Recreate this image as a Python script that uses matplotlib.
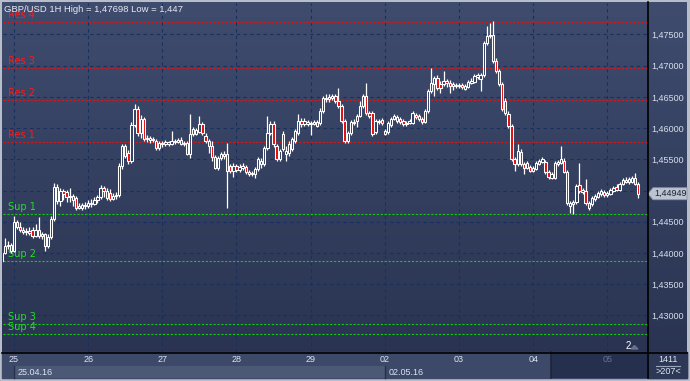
import matplotlib.pyplot as plt
import matplotlib.transforms as mtransforms
from matplotlib.patches import Rectangle, Polygon
import numpy as np
import pandas as pd

# GBP/USD 1H candles (1 bar = 1 hour)
opens = [
    1.4388, 1.4400, 1.4412, 1.4413, 1.4404, 1.4449, 1.4442, 1.4437, 1.4434, 1.4436,
    1.4437, 1.4428, 1.4437, 1.4428, 1.4431, 1.4412, 1.4426, 1.4455, 1.4506, 1.4484,
    1.4500, 1.4498, 1.4490, 1.4492, 1.4488, 1.4472, 1.4472, 1.4477, 1.4476, 1.4480,
    1.4479, 1.4485, 1.4490, 1.4504, 1.4500, 1.4496, 1.4487, 1.4492, 1.4493, 1.4540,
    1.4572, 1.4560, 1.4548, 1.4605, 1.4631, 1.4592, 1.4614, 1.4583, 1.4584, 1.4581,
    1.4580, 1.4568, 1.4576, 1.4575, 1.4578, 1.4575, 1.4580, 1.4578, 1.4581, 1.4575,
    1.4576, 1.4559, 1.4599, 1.4591, 1.4594, 1.4607, 1.4588, 1.4580, 1.4572, 1.4554,
    1.4536, 1.4552, 1.4559, 1.4559, 1.4540, 1.4532, 1.4540, 1.4533, 1.4536, 1.4538,
    1.4530, 1.4527, 1.4527, 1.4535, 1.4543, 1.4543, 1.4568, 1.4592, 1.4607, 1.4572,
    1.4551, 1.4591, 1.4559, 1.4560, 1.4567, 1.4580, 1.4592, 1.4612, 1.4607, 1.4610,
    1.4607, 1.4607, 1.4610, 1.4608, 1.4628, 1.4648, 1.4647, 1.4648, 1.4652, 1.4644,
    1.4636, 1.4612, 1.4580, 1.4592, 1.4610, 1.4612, 1.4619, 1.4636, 1.4652, 1.4624,
    1.4624, 1.4594, 1.4612, 1.4613, 1.4591, 1.4594, 1.4605, 1.4614, 1.4617, 1.4614,
    1.4612, 1.4607, 1.4608, 1.4608, 1.4621, 1.4619, 1.4614, 1.4610, 1.4628, 1.4660,
    1.4671, 1.4681, 1.4671, 1.4671, 1.4676, 1.4672, 1.4668, 1.4669, 1.4668, 1.4669,
    1.4663, 1.4666, 1.4672, 1.4674, 1.4682, 1.4679, 1.4685, 1.4736, 1.4747, 1.4749,
    1.4707, 1.4691, 1.4671, 1.4644, 1.4623, 1.4604, 1.4551, 1.4543, 1.4562, 1.4543,
    1.4536, 1.4538, 1.4532, 1.4535, 1.4543, 1.4546, 1.4546, 1.4530, 1.4520, 1.4520,
    1.4543, 1.4544, 1.4548, 1.4530, 1.4476, 1.4479, 1.4482, 1.4509, 1.4498, 1.4500,
    1.4480, 1.4479, 1.4487, 1.4490, 1.4495, 1.4498, 1.4493, 1.4495, 1.4500, 1.4506,
    1.4501, 1.4511, 1.4514, 1.4519, 1.4514, 1.4520, 1.4511,
]
highs = [
    1.4404, 1.4424, 1.4420, 1.4416, 1.4460, 1.4453, 1.4449, 1.4442, 1.4440, 1.4442,
    1.4442, 1.4447, 1.4458, 1.4434, 1.4432, 1.4431, 1.4460, 1.4512, 1.4511, 1.4504,
    1.4503, 1.4501, 1.4504, 1.4495, 1.4492, 1.4480, 1.4480, 1.4482, 1.4485, 1.4487,
    1.4490, 1.4493, 1.4509, 1.4508, 1.4504, 1.4503, 1.4496, 1.4498, 1.4544, 1.4575,
    1.4575, 1.4565, 1.4610, 1.4639, 1.4636, 1.4621, 1.4617, 1.4589, 1.4588, 1.4586,
    1.4583, 1.4580, 1.4580, 1.4581, 1.4580, 1.4596, 1.4583, 1.4584, 1.4586, 1.4580,
    1.4580, 1.4623, 1.4602, 1.4600, 1.4619, 1.4610, 1.4592, 1.4583, 1.4580, 1.4557,
    1.4556, 1.4562, 1.4564, 1.4576, 1.4543, 1.4544, 1.4543, 1.4543, 1.4544, 1.4541,
    1.4533, 1.4532, 1.4538, 1.4554, 1.4552, 1.4572, 1.4619, 1.4612, 1.4612, 1.4575,
    1.4567, 1.4596, 1.4572, 1.4580, 1.4586, 1.4599, 1.4623, 1.4616, 1.4616, 1.4613,
    1.4612, 1.4613, 1.4613, 1.4632, 1.4652, 1.4655, 1.4655, 1.4655, 1.4655, 1.4664,
    1.4639, 1.4614, 1.4596, 1.4613, 1.4614, 1.4623, 1.4644, 1.4655, 1.4672, 1.4628,
    1.4628, 1.4614, 1.4614, 1.4616, 1.4599, 1.4612, 1.4617, 1.4623, 1.4621, 1.4617,
    1.4614, 1.4612, 1.4614, 1.4628, 1.4624, 1.4623, 1.4617, 1.4631, 1.4663, 1.4696,
    1.4684, 1.4685, 1.4676, 1.4691, 1.4679, 1.4677, 1.4674, 1.4672, 1.4672, 1.4672,
    1.4671, 1.4677, 1.4681, 1.4687, 1.4688, 1.4688, 1.4739, 1.4763, 1.4768, 1.4771,
    1.4712, 1.4695, 1.4674, 1.4648, 1.4628, 1.4607, 1.4554, 1.4575, 1.4567, 1.4546,
    1.4548, 1.4541, 1.4540, 1.4548, 1.4551, 1.4554, 1.4549, 1.4533, 1.4530, 1.4548,
    1.4549, 1.4572, 1.4552, 1.4533, 1.4484, 1.4485, 1.4511, 1.4544, 1.4504, 1.4519,
    1.4484, 1.4492, 1.4495, 1.4500, 1.4503, 1.4501, 1.4500, 1.4504, 1.4508, 1.4511,
    1.4514, 1.4520, 1.4522, 1.4522, 1.4524, 1.4528, 1.4514,
]
lows = [
    1.4384, 1.4399, 1.4407, 1.4400, 1.4402, 1.4439, 1.4434, 1.4431, 1.4429, 1.4429,
    1.4424, 1.4426, 1.4424, 1.4423, 1.4404, 1.4408, 1.4423, 1.4452, 1.4479, 1.4476,
    1.4485, 1.4482, 1.4482, 1.4476, 1.4469, 1.4471, 1.4469, 1.4471, 1.4472, 1.4474,
    1.4477, 1.4480, 1.4487, 1.4490, 1.4485, 1.4484, 1.4485, 1.4487, 1.4490, 1.4535,
    1.4552, 1.4543, 1.4544, 1.4602, 1.4588, 1.4584, 1.4580, 1.4578, 1.4576, 1.4578,
    1.4565, 1.4565, 1.4570, 1.4572, 1.4572, 1.4573, 1.4575, 1.4576, 1.4573, 1.4572,
    1.4557, 1.4552, 1.4588, 1.4589, 1.4592, 1.4589, 1.4576, 1.4560, 1.4548, 1.4535,
    1.4533, 1.4549, 1.4551, 1.4472, 1.4528, 1.4522, 1.4530, 1.4530, 1.4533, 1.4527,
    1.4524, 1.4524, 1.4520, 1.4532, 1.4536, 1.4540, 1.4565, 1.4589, 1.4570, 1.4548,
    1.4548, 1.4564, 1.4548, 1.4556, 1.4564, 1.4576, 1.4589, 1.4602, 1.4604, 1.4604,
    1.4589, 1.4605, 1.4602, 1.4605, 1.4624, 1.4642, 1.4642, 1.4645, 1.4640, 1.4632,
    1.4608, 1.4576, 1.4576, 1.4589, 1.4605, 1.4602, 1.4617, 1.4632, 1.4621, 1.4616,
    1.4588, 1.4591, 1.4607, 1.4605, 1.4589, 1.4591, 1.4602, 1.4613, 1.4608, 1.4607,
    1.4604, 1.4604, 1.4607, 1.4607, 1.4614, 1.4612, 1.4607, 1.4608, 1.4624, 1.4656,
    1.4652, 1.4661, 1.4656, 1.4668, 1.4666, 1.4656, 1.4661, 1.4664, 1.4664, 1.4663,
    1.4661, 1.4664, 1.4671, 1.4672, 1.4679, 1.4660, 1.4682, 1.4733, 1.4744, 1.4704,
    1.4688, 1.4668, 1.4628, 1.4621, 1.4600, 1.4548, 1.4532, 1.4540, 1.4540, 1.4527,
    1.4535, 1.4530, 1.4530, 1.4533, 1.4541, 1.4544, 1.4527, 1.4519, 1.4519, 1.4519,
    1.4540, 1.4543, 1.4528, 1.4477, 1.4464, 1.4463, 1.4479, 1.4496, 1.4495, 1.4477,
    1.4469, 1.4476, 1.4484, 1.4488, 1.4492, 1.4490, 1.4490, 1.4493, 1.4498, 1.4500,
    1.4500, 1.4509, 1.4512, 1.4511, 1.4512, 1.4509, 1.4488,
]
closes = [
    1.4400, 1.4412, 1.4413, 1.4404, 1.4449, 1.4442, 1.4437, 1.4434, 1.4436, 1.4432,
    1.4428, 1.4437, 1.4428, 1.4431, 1.4412, 1.4426, 1.4455, 1.4506, 1.4484, 1.4500,
    1.4495, 1.4490, 1.4492, 1.4485, 1.4472, 1.4476, 1.4477, 1.4476, 1.4480, 1.4479,
    1.4485, 1.4490, 1.4504, 1.4500, 1.4488, 1.4487, 1.4492, 1.4493, 1.4540, 1.4572,
    1.4556, 1.4548, 1.4605, 1.4631, 1.4592, 1.4614, 1.4583, 1.4584, 1.4581, 1.4583,
    1.4568, 1.4576, 1.4575, 1.4578, 1.4575, 1.4580, 1.4578, 1.4581, 1.4575, 1.4576,
    1.4559, 1.4591, 1.4591, 1.4597, 1.4607, 1.4592, 1.4580, 1.4572, 1.4554, 1.4536,
    1.4552, 1.4559, 1.4556, 1.4532, 1.4532, 1.4540, 1.4533, 1.4538, 1.4540, 1.4530,
    1.4527, 1.4528, 1.4535, 1.4551, 1.4548, 1.4568, 1.4592, 1.4607, 1.4575, 1.4551,
    1.4564, 1.4567, 1.4564, 1.4575, 1.4583, 1.4596, 1.4612, 1.4607, 1.4612, 1.4607,
    1.4608, 1.4610, 1.4604, 1.4628, 1.4648, 1.4647, 1.4650, 1.4652, 1.4644, 1.4636,
    1.4612, 1.4580, 1.4592, 1.4610, 1.4608, 1.4619, 1.4636, 1.4652, 1.4624, 1.4619,
    1.4591, 1.4612, 1.4610, 1.4608, 1.4596, 1.4608, 1.4614, 1.4619, 1.4612, 1.4610,
    1.4607, 1.4608, 1.4612, 1.4624, 1.4617, 1.4614, 1.4610, 1.4628, 1.4660, 1.4672,
    1.4681, 1.4664, 1.4664, 1.4676, 1.4672, 1.4668, 1.4671, 1.4668, 1.4669, 1.4666,
    1.4668, 1.4674, 1.4676, 1.4684, 1.4685, 1.4685, 1.4736, 1.4747, 1.4749, 1.4707,
    1.4691, 1.4671, 1.4631, 1.4624, 1.4604, 1.4551, 1.4543, 1.4564, 1.4543, 1.4536,
    1.4544, 1.4532, 1.4536, 1.4544, 1.4548, 1.4551, 1.4530, 1.4522, 1.4527, 1.4544,
    1.4546, 1.4551, 1.4530, 1.4480, 1.4480, 1.4482, 1.4508, 1.4500, 1.4501, 1.4480,
    1.4472, 1.4488, 1.4492, 1.4496, 1.4500, 1.4493, 1.4496, 1.4501, 1.4504, 1.4501,
    1.4511, 1.4517, 1.4517, 1.4514, 1.4520, 1.4511, 1.4495,
]

res_names = ['Res 1', 'Res 2', 'Res 3', 'Res 4']
res_levels = [1.4578, 1.4645, 1.4696, 1.4770]
sup_names = ['Sup 1', 'Sup 2', 'Sup 3', 'Sup 4']
sup_levels = [1.4462, 1.4387, 1.4287, 1.4271]

price_ticks = [1.430, 1.435, 1.440, 1.445, 1.450, 1.455, 1.460, 1.465, 1.470, 1.475]
last_price = 1.44949
title = 'GBP/USD 1H High = 1,47698 Low = 1,447'
bars_total = '1411'
bars_shown = '>207<'

# hourly bars, no weekend except the few sunday evening bars at the start
times = pd.date_range('2016-04-24 20:00', '2016-05-05 10:00', freq='h')
times = times[(times.dayofweek < 5) | (times < '2016-04-25')]
idx = np.arange(len(times))
day_idx = idx[times.hour == 0]
day_lab = [t.strftime('%d') for t in times[day_idx]]
week_idx = idx[(times.hour == 0) & (times.dayofweek == 0)]
week_lab = [t.strftime('%d.%m.%y') for t in times[week_idx]]
dark_from = 177.8   # where the darker strip of the time scale starts

W, H = 690, 381
fig = plt.figure(figsize=(W / 100, H / 100), dpi=100, facecolor='#b7bdc9')

# background layer in pixel units
bg = fig.add_axes([0, 0, 1, 1])
bg.set_xlim(0, W)
bg.set_ylim(H, 0)
bg.axis('off')
grad = np.linspace(0, 1, 256)[:, None]
top = np.array([0x3f, 0x4c, 0x6e]) / 255
bot = np.array([0x2a, 0x34, 0x52]) / 255
img = top + (bot - top) * grad[..., None]
bg.imshow(img, extent=(2, 687, 352, 2), aspect='auto', zorder=0)
bg.add_patch(Rectangle((2, 352), 685, 26, color='#3c4968', zorder=1))
bg.add_patch(Rectangle((648, 352), 39, 26, color='#2d3857', zorder=2))

# main chart
ax = fig.add_axes([3 / W, 1 - 352 / H, 644 / W, 349 / H])
ax.patch.set_alpha(0)
ax.set_xlim(0.44, 208.85)
ax.set_ylim(1.42415, 1.48003)
for s in ax.spines.values():
    s.set_visible(False)

ax.set_xticks(day_idx)
ax.set_xticklabels(day_lab)
ax.set_yticks(price_ticks)
# the label under the current price tag is hidden, as on the original
ax.set_yticklabels(['' if abs(p - last_price) < 0.0015 else f'{p:.5f}'.replace('.', ',')
                    for p in price_ticks])
ax.yaxis.tick_right()
ax.tick_params(axis='x', length=0, pad=2, labelsize=6.5, labelcolor='#dde4f0')
ax.tick_params(axis='y', length=0, pad=3, labelsize=6.5, labelcolor='#d6deec')
for lab in ax.get_xticklabels() + ax.get_yticklabels():
    lab.set_family('Liberation Sans')
ax.get_xticklabels()[-1].set_color('#67748f')
ax.grid(True, color='#19305f', linestyle=(0, (3, 3)), lw=0.8)
ax.set_axisbelow(True)

bx = mtransforms.blended_transform_factory(ax.transData, ax.transAxes)
# time scale strips: week of 25.04 lighter, right end darker (kept below the tick labels)
ax.add_patch(Rectangle((week_idx[0], -0.0745), week_idx[1] - week_idx[0], 0.0345,
                       transform=bx, color='#4b5977', lw=0, clip_on=False, zorder=0.1))
ax.add_patch(Rectangle((dark_from, -0.0745), 208.85 - dark_from, 0.0745,
                       transform=bx, color='#25304e', lw=0, clip_on=False, zorder=0.1))
ax.plot([dark_from, dark_from], [0, -0.0745], transform=bx, color='#1c2438', lw=1.2,
        clip_on=False, zorder=0.2)
for w, lab in zip(week_idx, week_lab):
    ax.text(w + 1.2, -0.058, lab, transform=bx, color='#dde4f0', fontsize=6.5,
            va='center', ha='left', family='Liberation Sans', clip_on=False, zorder=3)
    ax.plot([w, w], [-0.040, -0.0745], transform=bx, color='#26304a', lw=1,
            clip_on=False, zorder=0.2)

# support / resistance
for name, lvl in zip(res_names, res_levels):
    ax.axhline(lvl, color='#d41818', lw=0.8, linestyle=(0, (2, 1.5)), zorder=2)
    ax.annotate(name, xy=(0, lvl), xycoords=('axes fraction', 'data'), xytext=(5, 2),
                textcoords='offset pixels', color='#ff1a1a', fontsize=7, va='bottom', zorder=2)
for name, lvl in zip(sup_names, sup_levels):
    ax.axhline(lvl, color='#14c814', lw=0.8, linestyle=(0, (2, 1.5)), zorder=2)
    ax.annotate(name, xy=(0, lvl), xycoords=('axes fraction', 'data'), xytext=(5, 2),
                textcoords='offset pixels', color='#22e022', fontsize=7, va='bottom', zorder=2)

# candles
bw = 0.76
for i in idx:
    o, h, l, c = opens[i], highs[i], lows[i], closes[i]
    lo, hi = min(o, c), max(o, c)
    ax.plot([i, i], [hi, h], color='white', lw=0.9, solid_capstyle='butt', zorder=3)
    ax.plot([i, i], [l, lo], color='white', lw=0.9, solid_capstyle='butt', zorder=3)
    fc = '#e01010' if c < o else '#34405f'
    ax.add_patch(Rectangle((i - bw / 2, lo), bw, max(hi - lo, 0.00002), facecolor=fc,
                           edgecolor='white', lw=0.75, zorder=4))

# overlay layer in pixel units (frame lines, price tag, title)
ov = fig.add_axes([0, 0, 1, 1])
ov.set_xlim(0, W)
ov.set_ylim(H, 0)
ov.axis('off')
ov.patch.set_alpha(0)
ov.plot([2, 687], [352.5, 352.5], color='black', lw=1.2)
ov.plot([647.5, 647.5], [2, 378], color='black', lw=1.2)

ty = H - ax.transData.transform((0, last_price))[1]
ov.add_patch(Polygon([(648, ty), (653, ty - 6), (687, ty - 6), (687, ty + 6), (653, ty + 6)],
                     closed=True, facecolor='#bcc4d2', edgecolor='#8a94a8', lw=0.6))
ov.text(654, ty, f'{last_price:.5f}'.replace('.', ','), color='#1b2233', fontsize=6.5,
        va='center', ha='left', family='Liberation Sans')

ov.text(668, 359, bars_total, color='#dfe6f2', fontsize=6.5, ha='center', va='center',
        family='Liberation Sans')
ov.plot([656, 680], [365.5, 365.5], color='#9aa6bc', lw=0.8)
ov.text(668, 372, bars_shown, color='#dfe6f2', fontsize=6.5, ha='center', va='center',
        family='Liberation Sans')

ov.text(4, 9, title, color='#e4e9f2', fontsize=6.8, va='center', ha='left',
        family='Liberation Sans')
ov.text(628, 346, '2', color='white', fontsize=7, va='center', ha='center',
        family='Liberation Sans')
ov.add_patch(Polygon([(631, 349), (634.5, 345.5), (638, 349)], closed=True, color='#66718c'))

fig.savefig('out.png', dpi=100, facecolor=fig.get_facecolor())
